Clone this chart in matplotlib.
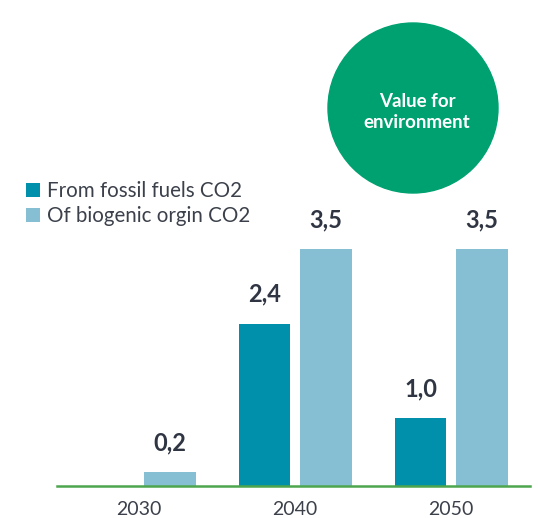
import matplotlib.pyplot as plt
from matplotlib.patches import Circle

years = ['2030', '2040', '2050']
fossil = [0, 2.4, 1.0]
biogenic = [0.2, 3.5, 3.5]
series_names = ['From fossil fuels CO2', 'Of biogenic orgin CO2']
colors = ['#0090ab', '#86bfd4']
badge_text = 'Value for\nenvironment'

plt.rcParams['font.family'] = ['Lato', 'DejaVu Sans']

fig = plt.figure(figsize=(5.38, 5.18), dpi=100)
ax = fig.add_axes([57 / 538, 32 / 518, 473 / 538, 486 / 518])

x = range(len(years))
w = 0.333
off = 0.196
b1 = ax.bar([i - off for i in x], fossil, w, color=colors[0], label=series_names[0])
b2 = ax.bar([i + off for i in x], biogenic, w, color=colors[1], label=series_names[1])

# value labels, skip zero bars
for bars, vals in [(b1, fossil), (b2, biogenic)]:
    for bar, v in zip(bars, vals):
        if v == 0:
            continue
        ax.annotate(f'{v:.1f}'.replace('.', ','),
                    (bar.get_x() + bar.get_width() / 2, v),
                    xytext=(0, 13), textcoords='offset points',
                    ha='center', va='bottom', fontsize=17, fontweight='bold',
                    color='#2f3542')

ax.set_xlim(-0.526, 2.506)
ax.set_ylim(0, 486 / 67.7)
ax.set_xticks(list(x))
ax.set_xticklabels(years, fontsize=14, color='#3b404a')
ax.tick_params(axis='x', length=0, pad=11)
ax.set_yticks([])
for s in ['top', 'right', 'left']:
    ax.spines[s].set_visible(False)
ax.spines['bottom'].set_color('#4da64d')
ax.spines['bottom'].set_linewidth(1.8)
ax.patch.set_alpha(0)

leg = fig.legend(loc='upper left', bbox_to_anchor=(18 / 538, 1 - 173 / 518),
                 frameon=False, fontsize=14.8, handlelength=0.68, handleheight=0.68,
                 handletextpad=0.32, labelspacing=0.25, borderaxespad=0)
for t in leg.get_texts():
    t.set_color('#3b404a')

# green badge circle
circ = Circle((4.13, 4.10), 0.85, transform=fig.dpi_scale_trans,
              color='#00a170', zorder=5)
fig.patches.append(circ)
fig.text(4.17 / 5.38, 4.06 / 5.18, badge_text, ha='center', va='center',
         color='white', fontsize=13.5, fontweight='bold', linespacing=1.25, zorder=6)

fig.savefig('out.png', dpi=100)
